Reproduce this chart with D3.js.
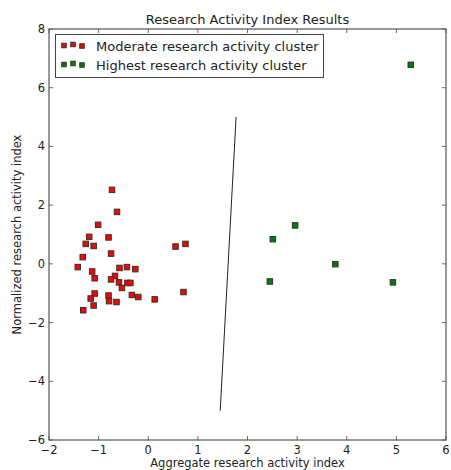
<!DOCTYPE html>
<html><head><meta charset="utf-8">
<script src="https://cdn.jsdelivr.net/npm/d3@7"></script>
<style>body{margin:0;background:#fff}svg{display:block}text{font-family:"DejaVu Sans",sans-serif;fill:#222}</style>
</head><body><svg id="c" width="451" height="470"></svg>
<script>
const title = "Research Activity Index Results";
const xLabel = "Aggregate research activity index";
const yLabel = "Normalized research activity index";
const seriesNames = ["Moderate research activity cluster", "Highest research activity cluster"];
const xTicks = [-2,-1,0,1,2,3,4,5,6];
const yTicks = [-6,-4,-2,0,2,4,6,8];
const moderateX = [-0.73,-0.63,-1.01,-1.19,-0.80,-1.26,-1.10,-0.75,-1.32,-1.42,-1.13,-1.08,-0.58,-0.43,-0.26,-0.67,-0.75,-0.59,-0.42,-0.36,-0.53,-1.08,-0.80,-0.33,-0.20,-1.16,-0.79,-0.64,-1.10,-1.31,0.13,0.55,0.75,0.71];
const moderateY = [2.52,1.77,1.33,0.92,0.90,0.68,0.61,0.35,0.23,-0.11,-0.26,-0.49,-0.14,-0.11,-0.18,-0.41,-0.53,-0.63,-0.65,-0.65,-0.82,-1.01,-1.08,-1.06,-1.13,-1.18,-1.27,-1.30,-1.42,-1.58,-1.21,0.59,0.68,-0.96];
const highestX = [5.29,2.96,2.51,3.77,2.45,4.93];
const highestY = [6.78,1.31,0.84,-0.01,-0.60,-0.63];
const boundaryX = [1.77,1.45];
const boundaryY = [5,-5];

const svg = d3.select("#c");
const L=49,R=446,T=29,B=440;
const x = d3.scaleLinear().domain([-2,6]).range([L,R]);
const y = d3.scaleLinear().domain([-6,8]).range([B,T]);

const g = svg.append("g");
const tk = 4;
const tc = "#444";
xTicks.forEach(v=>{
  g.append("line").attr("x1",x(v)).attr("x2",x(v)).attr("y1",B).attr("y2",B-tk).attr("stroke",tc).attr("stroke-width",0.8);
  g.append("line").attr("x1",x(v)).attr("x2",x(v)).attr("y1",T).attr("y2",T+tk).attr("stroke",tc).attr("stroke-width",0.8);
  g.append("text").attr("x",x(v)).attr("y",B+13.5).attr("text-anchor","middle").attr("font-size",11.5).text(v<0?"\u2212"+(-v):v);
});
yTicks.forEach(v=>{
  g.append("line").attr("x1",L).attr("x2",L+tk).attr("y1",y(v)).attr("y2",y(v)).attr("stroke",tc).attr("stroke-width",0.8);
  g.append("line").attr("x1",R).attr("x2",R-tk).attr("y1",y(v)).attr("y2",y(v)).attr("stroke",tc).attr("stroke-width",0.8);
  g.append("text").attr("x",L-4).attr("y",y(v)+4).attr("text-anchor","end").attr("font-size",11.5).text(v<0?"\u2212"+(-v):v);
});

svg.append("line").attr("x1",x(boundaryX[0])).attr("y1",y(boundaryY[0])).attr("x2",x(boundaryX[1])).attr("y2",y(boundaryY[1])).attr("stroke","#222").attr("stroke-width",1);

const s=5.5;
function pts(xs,ys,color){
  svg.append("g").selectAll("rect").data(xs.map((v,i)=>[v,ys[i]])).join("rect")
    .attr("x",d=>x(d[0])-s/2).attr("y",d=>y(d[1])-s/2).attr("width",s).attr("height",s)
    .attr("fill",color).attr("stroke","#333").attr("stroke-width",1);
}
pts(moderateX,moderateY,"#ff0000");
pts(highestX,highestY,"#008000");

svg.append("rect").attr("x",L).attr("y",T).attr("width",R-L).attr("height",B-T).attr("fill","none").attr("stroke","#555").attr("stroke-width",1.2);

const lg = svg.append("g");
lg.append("rect").attr("x",55.5).attr("y",34.5).attr("width",268).attr("height",43).attr("fill","#fff").attr("stroke","#444").attr("stroke-width",1);
const colors=["#ff0000","#008000"];
seriesNames.forEach((n,i)=>{
  const cy = 45.5 + i*19;
  [64,73,82].forEach((mx,j)=>{
    const sz=4.5;
    lg.append("rect").attr("x",mx-sz/2).attr("y",cy-sz/2+[0,-1,0.5][j]).attr("width",sz).attr("height",sz).attr("fill",colors[i]).attr("stroke","#333").attr("stroke-width",1);
  });
  lg.append("text").attr("x",96).attr("y",cy+5).attr("font-size",13).text(n);
});

svg.append("text").attr("x",(L+R)/2).attr("y",24).attr("text-anchor","middle").attr("font-size",13).text(title);
svg.append("text").attr("x",(L+R)/2).attr("y",467).attr("text-anchor","middle").attr("font-size",11.5).text(xLabel);
svg.append("text").attr("transform",`translate(21,${(T+B)/2}) rotate(-90)`).attr("text-anchor","middle").attr("font-size",11.5).text(yLabel);
</script></body></html>
